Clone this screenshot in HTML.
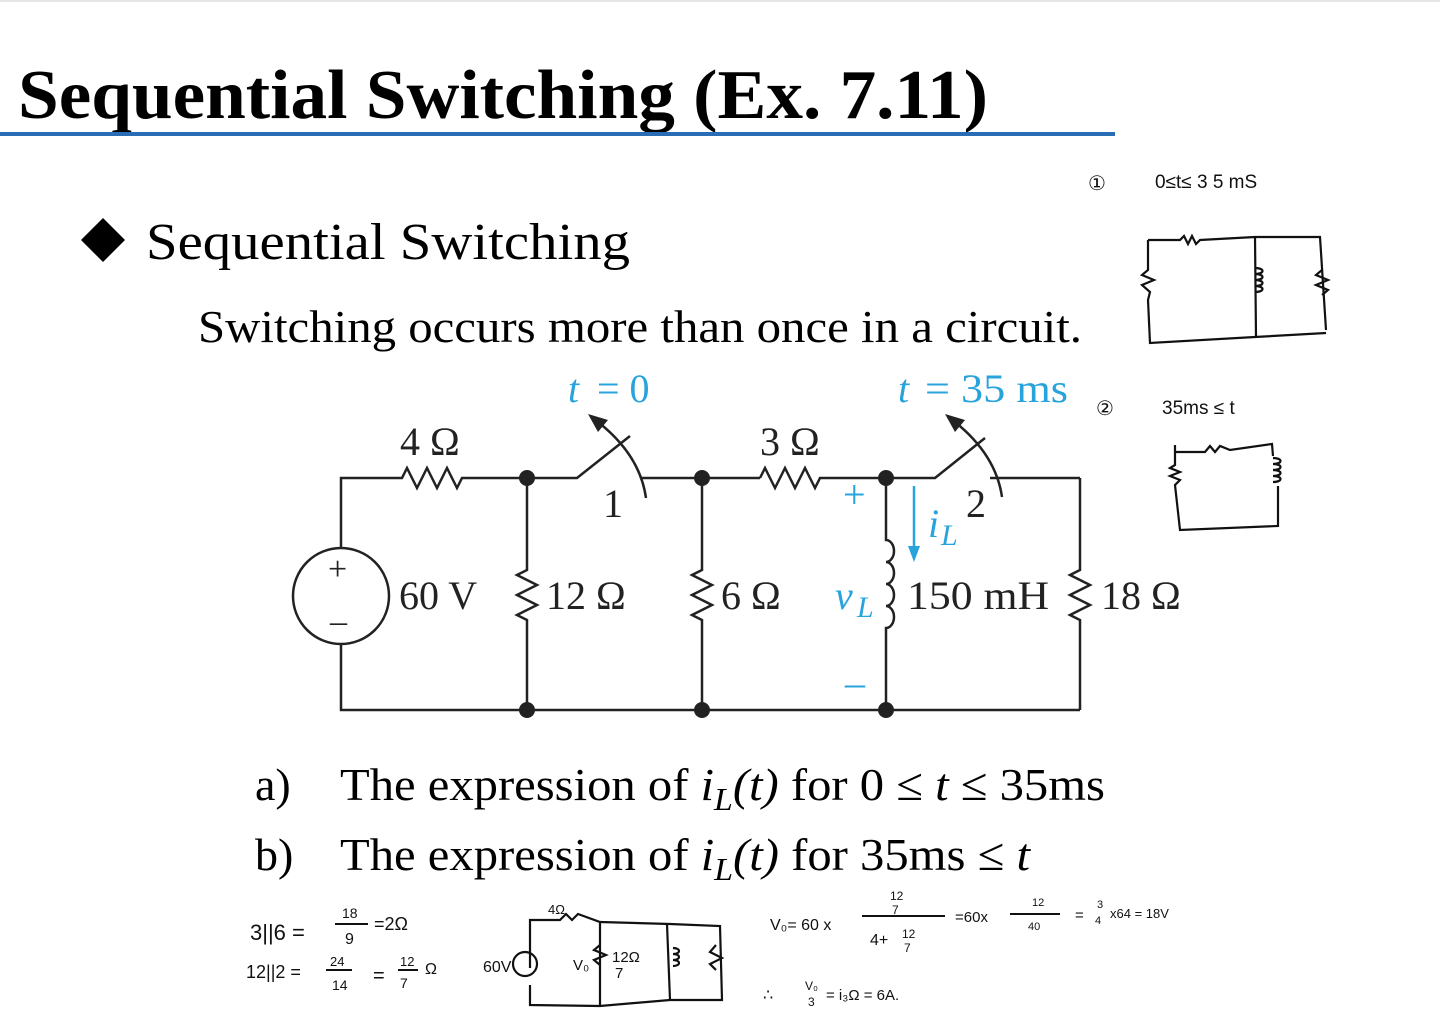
<!DOCTYPE html>
<html><head><style>
html,body{margin:0;padding:0;background:#fff;}
svg{display:block}
.s{font-family:"Liberation Serif",serif;}
.h{font-family:"Liberation Sans",sans-serif;}
</style></head><body>
<svg width="1440" height="1020" viewBox="0 0 1440 1020" xmlns="http://www.w3.org/2000/svg">
<line x1="0" y1="1" x2="1440" y2="1" stroke="#ccc" stroke-width="1"/>
<text x="18" y="118" class="s" font-size="70" font-weight="bold" fill="#000" textLength="970" lengthAdjust="spacingAndGlyphs">Sequential Switching (Ex. 7.11)</text>
<line x1="0" y1="134" x2="1115" y2="134" stroke="#2a6db5" stroke-width="4"/>
<polygon points="103,218 125,240 103,262 81,240" fill="#000"/>
<text x="146" y="259" class="s" font-size="52" textLength="484" lengthAdjust="spacingAndGlyphs">Sequential Switching</text>
<text x="198" y="342" class="s" font-size="46" textLength="884" lengthAdjust="spacingAndGlyphs">Switching occurs more than once in a circuit.</text>

<g fill="none" stroke="#222" stroke-width="2.5">
<polyline points="341,548 341,478 402,478 407,468 417,488 427,468 437,488 447,468 457,488 462,478 577,478 630,436"/>
<line x1="640" y1="478" x2="760" y2="478"/>
<polyline points="760,478 765,468 775,488 785,468 795,488 805,468 815,488 820,478 935,478 985,438"/>
<line x1="990" y1="478" x2="1080" y2="478"/>
<polyline points="341,644 341,710 1080,710"/>
<circle cx="341" cy="596" r="48"/>
<polyline points="527,478 527,570 517,575 537,585 517,595 537,605 517,615 527,620 527,710"/>
<polyline points="702,478 702,570 692,575 712,585 692,595 712,605 692,615 702,620 702,710"/>
<polyline points="1080,478 1080,570 1070,575 1090,585 1070,595 1090,605 1070,615 1080,620 1080,710"/>
<path d="M886,478 V540 a8,11 0 0 1 0,22 a8,11 0 0 1 0,22 a8,11 0 0 1 0,22 a8,11 0 0 1 0,22 V710"/>
<path d="M646,498 Q640,455 598,422"/>
<path d="M1002,497 Q996,455 955,422"/>
</g>
<polygon points="588,414 608,420 598,432" fill="#222"/>
<polygon points="945,414 965,420 955,432" fill="#222"/>
<g fill="#222"><circle cx="527" cy="478" r="8"/><circle cx="702" cy="478" r="8"/><circle cx="886" cy="478" r="8"/>
<circle cx="527" cy="710" r="8"/><circle cx="702" cy="710" r="8"/><circle cx="886" cy="710" r="8"/></g>
<g class="s" font-size="40" fill="#222">
<text x="400" y="455">4 Ω</text><text x="760" y="455">3 Ω</text>
<text x="603" y="517">1</text><text x="966" y="517">2</text>
<text x="328" y="580" font-size="34">+</text><text x="330" y="632" font-size="34">–</text>
<text x="399" y="609">60 V</text><text x="546" y="609">12 Ω</text><text x="721" y="609">6 Ω</text>
<text x="907" y="609" textLength="142" lengthAdjust="spacingAndGlyphs">150 mH</text><text x="1101" y="609">18 Ω</text>
</g>
<g class="s" font-size="40" fill="#29a3dc">
<text x="568" y="402" font-style="italic">t</text><text x="597" y="402">= 0</text>
<text x="898" y="402" font-style="italic">t</text><text x="925" y="402" textLength="143" lengthAdjust="spacingAndGlyphs">= 35 ms</text>
<text x="843" y="508">+</text><text x="845" y="696">–</text>
<text x="928" y="537" font-style="italic">i</text><text x="941" y="545" font-style="italic" font-size="30">L</text>
<text x="835" y="609" font-style="italic">v</text><text x="857" y="617" font-style="italic" font-size="30">L</text>
</g>
<line x1="914" y1="486" x2="914" y2="548" stroke="#29a3dc" stroke-width="2.5"/>
<polygon points="908,546 920,546 914,562" fill="#29a3dc"/>

<g class="s" font-size="46" fill="#000">
<text x="255" y="800">a)</text><text x="340" y="800" textLength="765" lengthAdjust="spacingAndGlyphs">The expression of <tspan font-style="italic">i</tspan><tspan font-style="italic" font-size="32" dy="10">L</tspan><tspan font-style="italic" dy="-10">(t)</tspan> for 0 ≤ <tspan font-style="italic">t</tspan> ≤ 35ms</text>
<text x="255" y="870">b)</text><text x="340" y="870" textLength="690" lengthAdjust="spacingAndGlyphs">The expression of <tspan font-style="italic">i</tspan><tspan font-style="italic" font-size="32" dy="10">L</tspan><tspan font-style="italic" dy="-10">(t)</tspan> for 35ms ≤ <tspan font-style="italic">t</tspan></text>
</g>

<g class="h" fill="#111" font-size="20">
<text x="1088" y="190">①</text><text x="1155" y="188" font-size="19">0≤t≤ 3 5 mS</text>
<text x="1096" y="415">②</text><text x="1162" y="414" font-size="19">35ms ≤ t</text>
<text x="250" y="940" font-size="22">3||6 =</text><text x="342" y="918" font-size="14">18</text><text x="345" y="944" font-size="16">9</text><text x="374" y="930" font-size="18">=2Ω</text>
<text x="246" y="978" font-size="18">12||2 =</text><text x="330" y="966" font-size="13">24</text><text x="332" y="990" font-size="14">14</text><text x="373" y="982">=</text><text x="400" y="966" font-size="13">12</text><text x="400" y="988" font-size="14">7</text><text x="425" y="974" font-size="16">Ω</text>
<text x="483" y="972" font-size="16">60V</text><text x="573" y="970" font-size="15">V₀</text><text x="612" y="962" font-size="15">12Ω</text><text x="615" y="978" font-size="15">7</text><text x="548" y="914" font-size="13">4Ω</text>
<text x="770" y="930" font-size="16">V₀= 60 x</text><text x="890" y="900" font-size="12">12</text><text x="892" y="914" font-size="12">7</text><text x="870" y="945" font-size="16">4+</text><text x="902" y="938" font-size="12">12</text><text x="904" y="952" font-size="12">7</text>
<text x="955" y="922" font-size="15">=60x</text><text x="1032" y="906" font-size="11">12</text><text x="1028" y="930" font-size="11">40</text><text x="1075" y="920" font-size="15">=</text><text x="1097" y="908" font-size="11">3</text><text x="1095" y="924" font-size="11">4</text><text x="1110" y="918" font-size="13">x64 = 18V</text>
<text x="763" y="1000" font-size="16">∴</text><text x="805" y="990" font-size="12">V₀</text><text x="808" y="1006" font-size="12">3</text><text x="826" y="1000" font-size="15">= i₃Ω = 6A.</text>
</g>
<line x1="335" y1="924" x2="368" y2="924" stroke="#111" stroke-width="2"/>
<line x1="326" y1="970" x2="352" y2="970" stroke="#111" stroke-width="2"/>
<line x1="398" y1="970" x2="418" y2="970" stroke="#111" stroke-width="2"/>
<line x1="862" y1="916" x2="945" y2="916" stroke="#111" stroke-width="2"/>
<line x1="1010" y1="914" x2="1060" y2="914" stroke="#111" stroke-width="2"/>
<g fill="none" stroke="#111" stroke-width="2.2">
<polyline points="1148,240 1180,240 1184,236 1188,244 1192,236 1196,244 1200,240 1255,237 1320,237 1326,330"/>
<polyline points="1148,240 1148,270 1142,275 1154,280 1142,285 1150,292 1148,300 1150,343 1255,337 1326,333"/>
<line x1="1255" y1="237" x2="1256" y2="337"/>
<path d="M1255,268 c10,0 10,6 0,6 c10,0 10,6 0,6 c10,0 10,6 0,6 c10,0 10,6 0,6"/>
<polyline points="1322,270 1316,275 1328,280 1316,285 1328,290 1322,295"/>
<polyline points="1175,445 1175,465 1170,468 1180,472 1170,476 1180,480 1175,485 1180,530 1278,526 1278,486"/>
<polyline points="1175,452 1205,452 1210,446 1215,452 1220,446 1230,450 1272,444 1273,456"/>
<path d="M1273,458 c10,0 10,6 0,6 c10,0 10,6 0,6 c10,0 10,6 0,6 c10,0 10,6 0,6"/>
<polyline points="530,968 530,920 560,920 566,914 572,920 578,914 600,922 670,924 720,926 722,1000 670,1000 600,1006 530,1005 530,985"/>
<circle cx="525" cy="964" r="12"/>
<line x1="600" y1="922" x2="600" y2="1006"/>
<line x1="667" y1="924" x2="670" y2="1000"/>
<polyline points="600,945 594,950 606,955 594,960 600,965"/>
<path d="M673,948 c8,0 8,6 0,6 c8,0 8,6 0,6 c8,0 8,6 0,6"/>
<polyline points="716,945 710,952 722,958 710,964 716,970"/>
</g>
</svg>
</body></html>
